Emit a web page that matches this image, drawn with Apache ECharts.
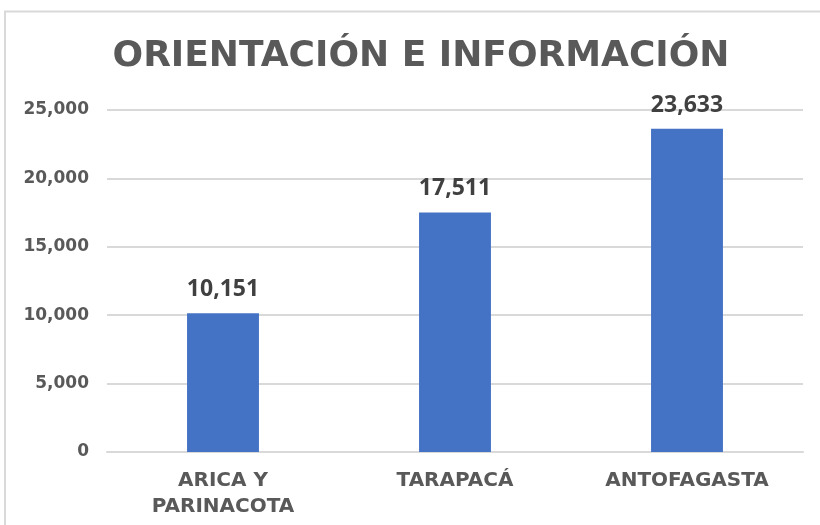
<!DOCTYPE html>
<html>
<head>
    <meta charset="utf-8">
    <title>Orientación e información</title>
    <script type="text/javascript" src="https://cdn.jsdelivr.net/npm/echarts@6/dist/echarts.min.js"></script>
</head>
<body style="margin:0;">
    <div id="main" style="width:820px;height:525px;"></div>
    <script type="text/javascript">
        var categories = ['ARICA Y\nPARINACOTA', 'TARAPACÁ', 'ANTOFAGASTA'];
        var values = [10151, 17511, 23633];

        var wideFont = '"DejaVu Sans", sans-serif';
        var numFont = '"Open Sans", "DejaVu Sans", sans-serif';
        var fmt = function (v) {
            return String(v).replace(/\B(?=(\d{3})+(?!\d))/g, ',');
        };

        var myChart = echarts.init(document.getElementById('main'));
        var option = {
            backgroundColor: '#fff',
            animation: false,
            graphic: [
                {   // marco gris del gráfico (solo se ven arriba e izquierda)
                    type: 'rect',
                    shape: { x: 5, y: 11.5, width: 900, height: 600 },
                    style: { fill: 'none', stroke: '#d9d9d9', lineWidth: 2 }
                }
            ],
            title: {
                text: 'ORIENTACIÓN E INFORMACIÓN',
                left: 416,
                top: 34,
                textAlign: 'center',
                textStyle: {
                    fontFamily: wideFont,
                    fontSize: 36,
                    fontWeight: 'bold',
                    color: '#595959'
                }
            },
            grid: { left: 107, right: 17, top: 110, bottom: 73, containLabel: false },
            xAxis: {
                type: 'category',
                data: categories,
                axisLine: { show: true, lineStyle: { color: '#d9d9d9', width: 2 } },
                axisTick: { show: false },
                axisLabel: {
                    margin: 16,
                    fontFamily: wideFont,
                    fontSize: 20,
                    fontWeight: 'bold',
                    color: '#595959',
                    lineHeight: 26
                }
            },
            yAxis: {
                type: 'value',
                min: 0,
                max: 25000,
                interval: 5000,
                axisLine: { show: false },
                axisTick: { show: false },
                splitLine: { lineStyle: { color: '#d9d9d9', width: 2 } },
                axisLabel: {
                    margin: 18,
                    fontFamily: wideFont,
                    fontSize: 17,
                    fontWeight: 'bold',
                    color: '#595959',
                    formatter: fmt
                }
            },
            series: [
                {
                    type: 'bar',
                    data: values,
                    barWidth: '31%',
                    itemStyle: { color: '#4472c4' },
                    label: {
                        show: true,
                        position: 'top',
                        distance: 12,
                        fontFamily: numFont,
                        fontSize: 23,
                        fontWeight: 'bold',
                        color: '#404040',
                        formatter: function (p) { return fmt(p.value); }
                    }
                }
            ]
        };
        myChart.setOption(option);
    </script>
</body>
</html>
